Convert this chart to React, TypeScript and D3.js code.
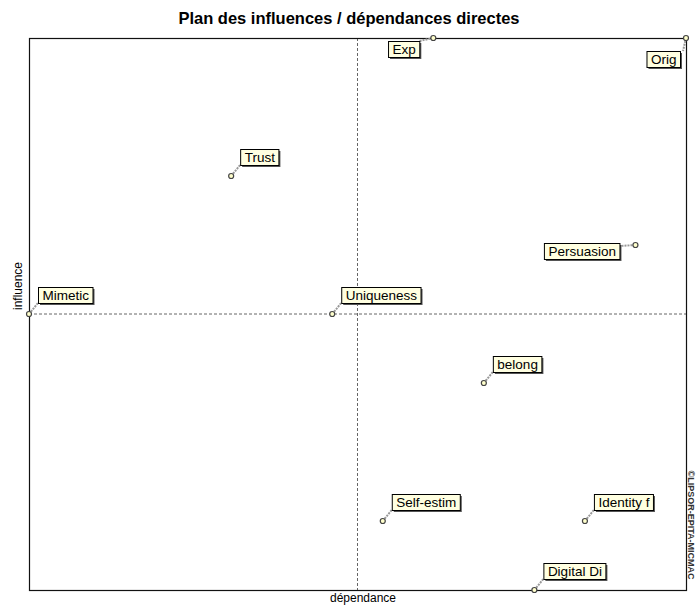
import { useEffect, useRef } from 'react';
import * as d3 from 'd3';

// Variables of the MICMAC direct influence / dependence plan
const variables = ['Exp', 'Orig', 'Trust', 'Persuasion', 'Mimetic', 'Uniqueness', 'belong', 'Self-estim', 'Identity f', 'Digital Di'];
const dependence = [9, 14, 5, 13, 1, 7, 10, 8, 12, 11];
const influence = [13, 13, 11, 10, 9, 9, 8, 6, 6, 5];
// where the label box sits relative to its point
const labelSide = ['sw', 's', 'ne', 'w', 'ne', 'ne', 'ne', 'ne', 'ne', 'ne'];

const W = 696;
const H = 605;

export default function App() {
  const svgRef = useRef<SVGSVGElement>(null);

  useEffect(() => {
    document.body.style.margin = '0';
    if (!svgRef.current) return;
    const svg = d3.select(svgRef.current);
    svg.selectAll('*').remove();

    const frame = { left: 29, right: 686, top: 38, bottom: 590 };

    const x = d3.scaleLinear()
      .domain(d3.extent(dependence) as [number, number])
      .range([frame.left, frame.right]);
    const y = d3.scaleLinear()
      .domain(d3.extent(influence) as [number, number])
      .range([frame.bottom, frame.top]);

    svg.append('rect')
      .attr('width', W).attr('height', H)
      .attr('fill', '#fff');

    // Title
    svg.append('text')
      .attr('x', 349)
      .attr('y', 24)
      .attr('text-anchor', 'middle')
      .style('font-family', '"Liberation Sans", Arial, sans-serif')
      .style('font-weight', 'bold')
      .style('font-size', '16.5px')
      .text('Plan des influences / dépendances directes');

    // Crosshair at the middle of the frame
    const midX = (frame.left + frame.right) / 2;
    const midY = (frame.top + frame.bottom) / 2;
    svg.append('line')
      .attr('x1', midX).attr('x2', midX)
      .attr('y1', frame.top).attr('y2', frame.bottom)
      .attr('stroke', '#666').attr('stroke-dasharray', '3,2');
    svg.append('line')
      .attr('x1', frame.left).attr('x2', frame.right)
      .attr('y1', midY).attr('y2', midY)
      .attr('stroke', '#666').attr('stroke-dasharray', '3,2');

    // Frame
    svg.append('rect')
      .attr('x', frame.left + 0.5).attr('y', frame.top + 0.5)
      .attr('width', frame.right - frame.left).attr('height', frame.bottom - frame.top)
      .attr('fill', 'none')
      .attr('stroke', '#111')
      .attr('stroke-width', 1.2);

    // Axis titles
    svg.append('text')
      .attr('x', 363).attr('y', 602)
      .attr('text-anchor', 'middle')
      .style('font-family', '"Liberation Sans", Arial, sans-serif')
      .style('font-size', '12px')
      .text('dépendance');
    svg.append('text')
      .attr('transform', `translate(22, 286) rotate(-90)`)
      .attr('text-anchor', 'middle')
      .style('font-family', '"Liberation Sans", Arial, sans-serif')
      .style('font-size', '12px')
      .text('influence');

    // Copyright
    svg.append('text')
      .attr('transform', `translate(688, 525) rotate(90)`)
      .attr('text-anchor', 'middle')
      .style('font-family', '"Liberation Sans", Arial, sans-serif')
      .style('font-size', '9px')
      .style('font-weight', 'bold')
      .attr('fill', '#333')
      .text('©LIPSOR-EPITA-MICMAC');

    const boxH = 16;
    const padX = 4;

    const g = svg.append('g');
    variables.forEach((name, i) => {
      const px = x(dependence[i]);
      const py = y(influence[i]);
      const node = g.append('g');

      const txt = node.append('text')
        .style('font-family', '"Liberation Sans", Arial, sans-serif')
        .style('font-size', '13.5px')
        .text(name);
      const tw = (txt.node() as SVGTextElement).getComputedTextLength();
      const bw = tw + padX * 2;

      let bx = px + 9;
      let by = py - 11 - boxH;
      let cx = bx;
      let cy = by + boxH;
      const side = labelSide[i];
      if (side === 'sw') {
        bx = px - 14 - bw; by = py + 3;
        cx = bx + bw; cy = by;
      } else if (side === 's') {
        bx = px - 6 - bw; by = py + 13;
        cx = px - 3; cy = by;
      } else if (side === 'w') {
        bx = px - 16 - bw; by = py - 2;
        cx = bx + bw; cy = py + 1;
      }

      // leader line
      node.insert('line', 'text')
        .attr('x1', px).attr('y1', py)
        .attr('x2', cx).attr('y2', cy)
        .attr('stroke', '#999')
        .attr('stroke-width', 2)
        .attr('stroke-dasharray', '2,1');
      // shadow
      node.insert('rect', 'text')
        .attr('x', bx + 2).attr('y', by + 2)
        .attr('width', bw).attr('height', boxH)
        .attr('fill', '#555');
      node.insert('rect', 'text')
        .attr('x', bx + 0.5).attr('y', by + 0.5)
        .attr('width', bw).attr('height', boxH)
        .attr('fill', '#ffffe1')
        .attr('stroke', '#000');
      txt.attr('x', bx + padX + 0.5).attr('y', by + 13);

      // point marker
      node.append('circle')
        .attr('cx', px).attr('cy', py)
        .attr('r', 2.5)
        .attr('fill', '#ffffcc')
        .attr('stroke', '#444')
        .attr('stroke-width', 1.2);
    });
  }, []);

  return <svg ref={svgRef} width={W} height={H} style={{ display: 'block' }} />;
}
